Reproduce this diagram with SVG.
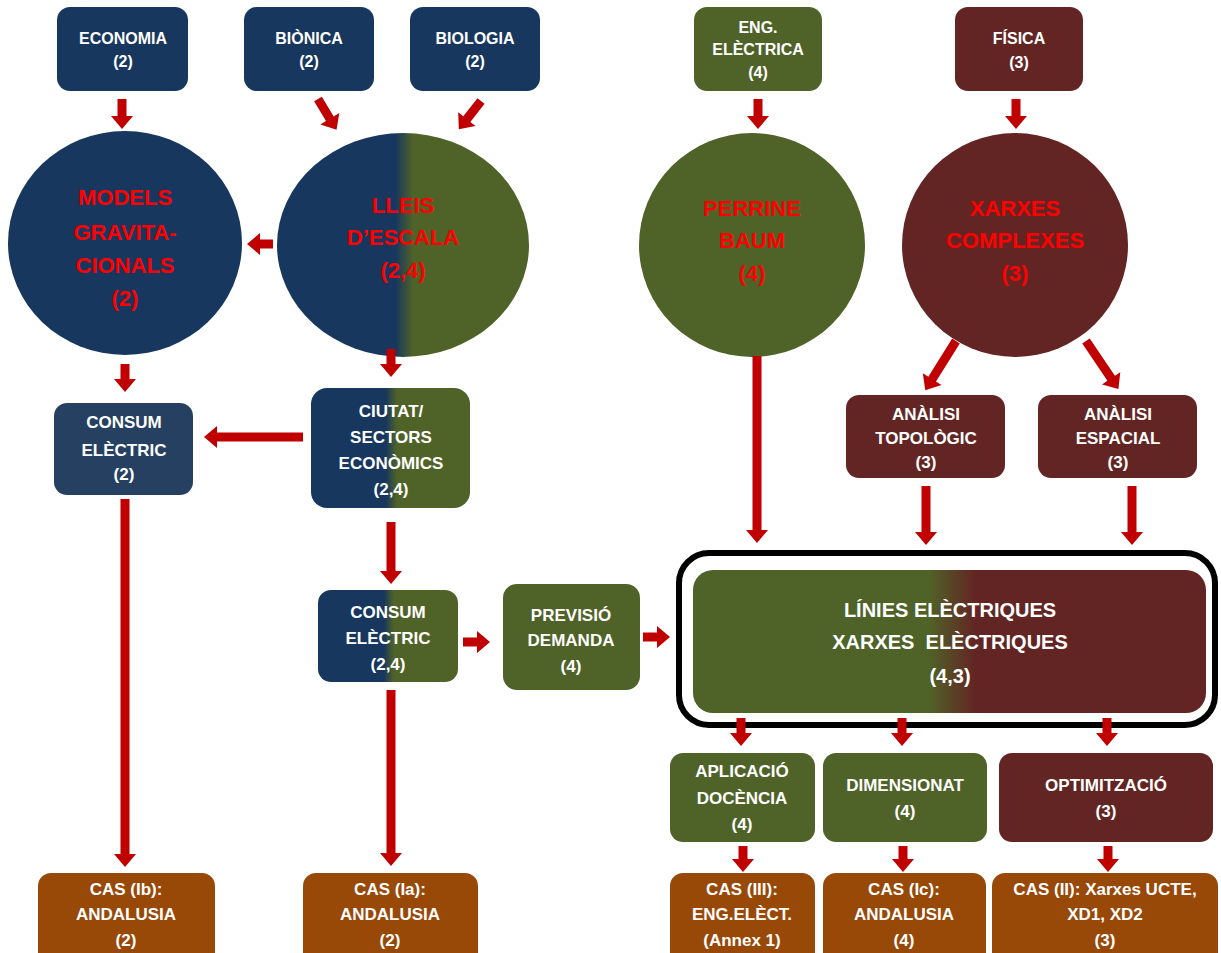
<svg xmlns="http://www.w3.org/2000/svg" width="1221" height="953" viewBox="0 0 1221 953">
<style>
text{font-family:"Liberation Sans",Arial,sans-serif;font-weight:bold;text-anchor:middle}
.w{fill:#ffffff;font-size:16px}
.m{fill:#ffffff;font-size:17px}
.r{fill:#ff0000;font-size:22px}
.big{fill:#ffffff;font-size:20px}
.navy{fill:#17375e}
.navy2{fill:#254061}
.grn{fill:#4f6228}
.brn{fill:#632523}
.org{fill:#984807}
.arr{fill:#c00000}
</style>
<defs>
<linearGradient id="gBG" x1="0" y1="0" x2="1" y2="0">
<stop offset="0.47" stop-color="#17375e"/><stop offset="0.54" stop-color="#4f6228"/>
</linearGradient>
<linearGradient id="gGR" x1="0" y1="0" x2="1" y2="0">
<stop offset="0.46" stop-color="#4f6228"/><stop offset="0.55" stop-color="#632523"/>
</linearGradient>
</defs>
<rect width="1221" height="953" fill="#ffffff"/>

<g id="economia"><rect class="navy" x="57" y="7" width="131" height="84" rx="13"/><text class="w" x="123" y="44">ECONOMIA</text><text class="w" x="123" y="67">(2)</text></g>
<g id="bionica"><rect class="navy" x="244" y="7" width="130" height="84" rx="13"/><text class="w" x="309" y="44">BIÒNICA</text><text class="w" x="309" y="67">(2)</text></g>
<g id="biologia"><rect class="navy" x="410" y="7" width="130" height="84" rx="13"/><text class="w" x="475" y="44">BIOLOGIA</text><text class="w" x="475" y="67">(2)</text></g>
<g id="engelectrica"><rect class="grn" x="694" y="7" width="128" height="84" rx="13"/><text class="w" x="758" y="33">ENG.</text><text class="w" x="758" y="55">ELÈCTRICA</text><text class="w" x="758" y="78">(4)</text></g>
<g id="fisica"><rect class="brn" x="955" y="7" width="128" height="84" rx="13"/><text class="w" x="1019" y="44">FÍSICA</text><text class="w" x="1019" y="68">(3)</text></g>

<g id="models"><ellipse class="navy" cx="125" cy="243" rx="117" ry="112"/><text class="r" x="125" y="205">MODELS</text><text class="r" x="125" y="240">GRAVITA-</text><text class="r" x="125" y="273">CIONALS</text><text class="r" x="125" y="306">(2)</text></g>
<g id="lleis"><ellipse fill="url(#gBG)" cx="403" cy="245" rx="126" ry="112"/><text class="r" x="403" y="213">LLEIS</text><text class="r" x="403" y="245">D’ESCALA</text><text class="r" x="403" y="278">(2,4)</text></g>
<g id="perrine"><ellipse class="grn" cx="752" cy="245" rx="113" ry="112"/><text class="r" x="752" y="216">PERRINE</text><text class="r" x="752" y="248">BAUM</text><text class="r" x="752" y="281">(4)</text></g>
<g id="xarxes"><ellipse class="brn" cx="1015" cy="245" rx="113" ry="112"/><text class="r" x="1015" y="216">XARXES</text><text class="r" x="1015" y="248">COMPLEXES</text><text class="r" x="1015" y="281">(3)</text></g>

<g id="consum2"><rect class="navy2" x="54" y="403" width="139" height="92" rx="13"/><text class="m" x="124" y="428">CONSUM</text><text class="m" x="124" y="456">ELÈCTRIC</text><text class="m" x="124" y="480">(2)</text></g>
<g id="ciutat"><rect fill="url(#gBG)" x="311" y="388" width="159" height="120" rx="16"/><text class="m" x="391" y="417">CIUTAT/</text><text class="m" x="391" y="443">SECTORS</text><text class="m" x="391" y="469">ECONÒMICS</text><text class="m" x="391" y="495">(2,4)</text></g>
<g id="topologic"><rect class="brn" x="846" y="395" width="159" height="83" rx="13"/><text class="m" x="926" y="420">ANÀLISI</text><text class="m" x="926" y="444">TOPOLÒGIC</text><text class="m" x="926" y="468">(3)</text></g>
<g id="espacial"><rect class="brn" x="1038" y="395" width="159" height="83" rx="13"/><text class="m" x="1118" y="420">ANÀLISI</text><text class="m" x="1118" y="444">ESPACIAL</text><text class="m" x="1118" y="468">(3)</text></g>

<g id="consum24"><rect fill="url(#gBG)" x="318" y="590" width="140" height="92" rx="13"/><text class="m" x="388" y="618">CONSUM</text><text class="m" x="388" y="644">ELÈCTRIC</text><text class="m" x="388" y="670">(2,4)</text></g>
<g id="previsio"><rect class="grn" x="503" y="584" width="137" height="106" rx="14"/><text class="m" x="571" y="621">PREVISIÓ</text><text class="m" x="571" y="646">DEMANDA</text><text class="m" x="571" y="672">(4)</text></g>
<g id="linies"><rect x="679" y="553" width="536" height="172" rx="30" fill="#ffffff" stroke="#000000" stroke-width="6"/><rect fill="url(#gGR)" x="693" y="570" width="513" height="143" rx="20"/><text class="big" x="950" y="617">LÍNIES ELÈCTRIQUES</text><text class="big" x="950" y="649" xml:space="preserve">XARXES  ELÈCTRIQUES</text><text class="big" x="950" y="683">(4,3)</text></g>

<g id="aplicacio"><rect class="grn" x="670" y="753" width="145" height="89" rx="13"/><text class="m" x="742" y="777">APLICACIÓ</text><text class="m" x="742" y="804">DOCÈNCIA</text><text class="m" x="742" y="830">(4)</text></g>
<g id="dimensionat"><rect class="grn" x="823" y="753" width="164" height="89" rx="13"/><text class="m" x="905" y="791">DIMENSIONAT</text><text class="m" x="905" y="817">(4)</text></g>
<g id="optimitzacio"><rect class="brn" x="999" y="753" width="214" height="89" rx="13"/><text class="m" x="1106" y="791">OPTIMITZACIÓ</text><text class="m" x="1106" y="817">(3)</text></g>

<g id="casIb"><rect class="org" x="38" y="873" width="177" height="95" rx="13"/><text class="m" x="126" y="895">CAS (Ib):</text><text class="m" x="126" y="920">ANDALUSIA</text><text class="m" x="126" y="946">(2)</text></g>
<g id="casIa"><rect class="org" x="303" y="873" width="175" height="95" rx="13"/><text class="m" x="390" y="895">CAS (Ia):</text><text class="m" x="390" y="920">ANDALUSIA</text><text class="m" x="390" y="946">(2)</text></g>
<g id="casIII"><rect class="org" x="670" y="873" width="145" height="95" rx="13"/><text class="m" x="742" y="895">CAS (III):</text><text class="m" x="742" y="920">ENG.ELÈCT.</text><text class="m" x="742" y="946">(Annex 1)</text></g>
<g id="casIc"><rect class="org" x="823" y="873" width="163" height="95" rx="13"/><text class="m" x="904" y="895">CAS (Ic):</text><text class="m" x="904" y="920">ANDALUSIA</text><text class="m" x="904" y="946">(4)</text></g>
<g id="casII"><rect class="org" x="992" y="873" width="226" height="95" rx="13"/><text class="m" x="1105" y="895">CAS (II): Xarxes UCTE,</text><text class="m" x="1105" y="920">XD1, XD2</text><text class="m" x="1105" y="946">(3)</text></g>

<g id="connectors" class="arr">
<polygon points="117.5,99 126.5,99 126.5,116 133,116 122,129 111,116 117.5,116"/>
<polygon points="753.5,99 762.5,99 762.5,116 769,116 758,129 747,116 753.5,116"/>
<polygon points="1011.5,99 1020.5,99 1020.5,116 1027,116 1016,129 1005,116 1011.5,116"/>
<polygon points="120.5,364 129.5,364 129.5,379 136,379 125,392 114,379 120.5,379"/>
<polygon points="386.5,349 395.5,349 395.5,364 402,364 391,377 380,364 386.5,364"/>
<polygon points="120.5,499 129.5,499 129.5,854 136,854 125,867 114,854 120.5,854"/>
<polygon points="386.5,522 395.5,522 395.5,571 402,571 391,584 380,571 386.5,571"/>
<polygon points="752.5,356 761.5,356 761.5,530 768,530 757,543 746,530 752.5,530"/>
<polygon points="921.5,486 930.5,486 930.5,532 937,532 926,545 915,532 921.5,532"/>
<polygon points="1127.5,486 1136.5,486 1136.5,532 1143,532 1132,545 1121,532 1127.5,532"/>
<polygon points="386.5,690 395.5,690 395.5,853 402,853 391,866 380,853 386.5,853"/>
<polygon points="736.5,718 745.5,718 745.5,733 752,733 741,746 730,733 736.5,733"/>
<polygon points="897.5,718 906.5,718 906.5,733 913,733 902,746 891,733 897.5,733"/>
<polygon points="1102.5,718 1111.5,718 1111.5,733 1118,733 1107,746 1096,733 1102.5,733"/>
<polygon points="738.5,846 747.5,846 747.5,859 754,859 743,872 732,859 738.5,859"/>
<polygon points="898.5,846 907.5,846 907.5,859 914,859 903,872 892,859 898.5,859"/>
<polygon points="1103.5,846 1112.5,846 1112.5,859 1119,859 1108,872 1097,859 1103.5,859"/>
<polygon transform="translate(273,244) rotate(90)" points="-4.5,0 4.5,0 4.5,13 11,13 0,26 -11,13 -4.5,13"/>
<polygon transform="translate(303,437) rotate(90)" points="-4.5,0 4.5,0 4.5,86 11,86 0,99 -11,86 -4.5,86"/>
<polygon transform="translate(463,642) rotate(-90)" points="-4.5,0 4.5,0 4.5,14 11,14 0,27 -11,14 -4.5,14"/>
<polygon transform="translate(643,637) rotate(-90)" points="-4.5,0 4.5,0 4.5,14 11,14 0,27 -11,14 -4.5,14"/>
<polygon transform="translate(318,99) rotate(-31)" points="-4.5,0 4.5,0 4.5,23 11,23 0,36 -11,23 -4.5,23"/>
<polygon transform="translate(481,101) rotate(38)" points="-4.5,0 4.5,0 4.5,23 11,23 0,36 -11,23 -4.5,23"/>
<polygon transform="translate(956,341) rotate(32)" points="-4.5,0 4.5,0 4.5,45 11,45 0,58 -11,45 -4.5,45"/>
<polygon transform="translate(1086,341) rotate(-34)" points="-4.5,0 4.5,0 4.5,45 11,45 0,58 -11,45 -4.5,45"/>
</g>
</svg>
